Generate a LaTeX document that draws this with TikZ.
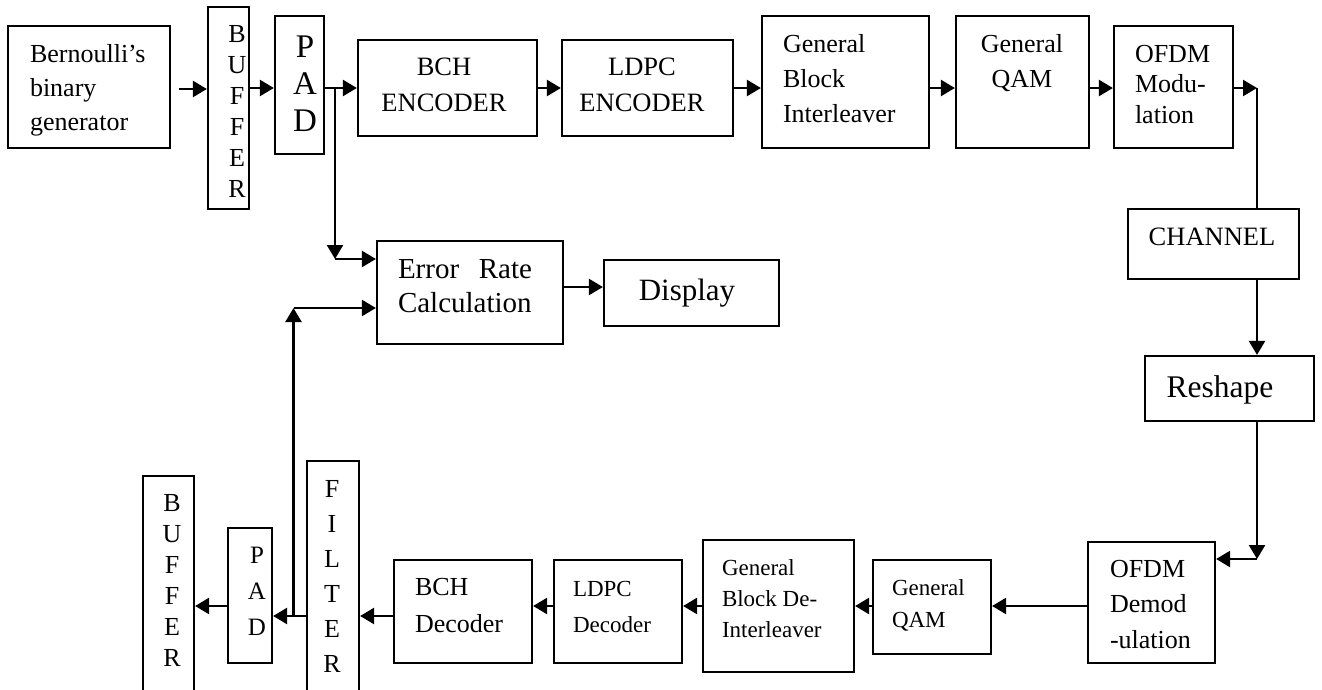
\documentclass[tikz,border=0pt]{standalone}
\usepackage{fontspec}
\setmainfont{Liberation Serif}
\usetikzlibrary{arrows.meta}
\newcommand\fsz[2]{\fontsize{#1}{#2}\selectfont}
\begin{document}
\begin{tikzpicture}[x=1pt,y=-1pt,
  blk/.style={draw, line width=2.2pt, inner sep=0pt},
  lbl/.style={inner sep=0pt, outer sep=0pt},
  lblL/.style={lbl, anchor=north west, align=left},
  lblC/.style={lbl, anchor=north, align=center},
  arr/.style={line width=2.4pt, -{Triangle[length=14pt,width=16pt]}},
  wire/.style={line width=2.4pt}]
\useasboundingbox (0,0) rectangle (1322,689);
\clip (0,0) rectangle (1322,689);

% ---------- transmitter chain ----------
\node[blk, minimum width=162pt, minimum height=122pt] (bern) at (89,87) {};
\node[lblL, font=\fsz{26}{34}] (bernT) at (30,38.2) {\strut Bernoulli’s\\binary\\generator};

\node[blk, minimum width=41pt, minimum height=202pt] (buf1) at (228.5,108) {};
\node[lblC, font=\fsz{26}{31}] (buf1T) at (237,20.3) {\strut B\\U\\F\\F\\E\\R};

\node[blk, minimum width=49pt, minimum height=138pt] (pad1) at (299.5,85) {};
\node[lblC, font=\fsz{33}{37}] (pad1T) at (305,31.1) {\strut P\\A\\D};

\node[blk, minimum width=179pt, minimum height=96pt] (bchenc) at (447.5,88) {};
\node[lblC, font=\fsz{26.5}{36}] (bchencT) at (444,49.8) {\strut BCH\\ENCODER};

\node[blk, minimum width=171pt, minimum height=96pt] (ldpcenc) at (647.5,88) {};
\node[lblC, font=\fsz{26.5}{36}] (ldpcencT) at (642,49.8) {\strut LDPC\\ENCODER};

\node[blk, minimum width=167pt, minimum height=132pt] (gbi) at (845.5,82) {};
\node[lblL, font=\fsz{26}{35}] (gbiT) at (783,27.5) {\strut General\\Block\\Interleaver};

\node[blk, minimum width=133pt, minimum height=132pt] (qam1) at (1022.5,82) {};
\node[lblC, font=\fsz{26}{35}] (qam1T) at (1022,27.5) {\strut General\\QAM};

\node[blk, minimum width=119pt, minimum height=122pt] (ofdm) at (1173.5,87) {};
\node[lblL, font=\fsz{26}{30.5}] (ofdmT) at (1135,40.65) {\strut OFDM\\Modu-\\lation};

\node[blk, minimum width=171pt, minimum height=70pt] (chan) at (1213.5,244) {};
\node[lblC, font=\fsz{26.5}{32}] (chanT) at (1212,222.6) {\strut CHANNEL};

\node[blk, minimum width=169pt, minimum height=65pt] (resh) at (1229.5,388.5) {};
\node[lblC, font=\fsz{31.5}{36}] (reshT) at (1220,371.8) {\strut Reshape};

% ---------- error measurement ----------
\node[blk, minimum width=186pt, minimum height=103pt] (err) at (470,292.5) {};
\node[lblL, font=\fsz{29}{34}] (errT) at (398,254.2) {\strut\hbox to 134pt{Error\hfill Rate}\\Calculation};

\node[blk, minimum width=175pt, minimum height=66pt] (disp) at (691.5,293) {};
\node[lblC, font=\fsz{31}{36}] (dispT) at (687,274.8) {\strut Display};

% ---------- receiver chain ----------
\node[blk, minimum width=127pt, minimum height=121pt] (ofdmd) at (1151.5,602.5) {};
\node[lblL, font=\fsz{26}{35.5}] (ofdmdT) at (1110,552.15) {\strut OFDM\\Demod\\-ulation};

\node[blk, minimum width=118pt, minimum height=94pt] (qam2) at (932,607) {};
\node[lblL, font=\fsz{23}{32}] (qam2T) at (892,572.6) {\strut General\\QAM};

\node[blk, minimum width=151pt, minimum height=132pt] (gbdi) at (778.5,606) {};
\node[lblL, font=\fsz{23}{31}] (gbdiT) at (722,553.3) {\strut General\\Block De-\\Interleaver};

\node[blk, minimum width=128pt, minimum height=103pt] (ldpcdec) at (618,611.5) {};
\node[lblL, font=\fsz{23}{36}] (ldpcdecT) at (573,570.8) {\strut LDPC\\Decoder};

\node[blk, minimum width=138pt, minimum height=103pt] (bchdec) at (463,611.5) {};
\node[lblL, font=\fsz{26}{37}] (bchdecT) at (415,569.1) {\strut BCH\\Decoder};

\node[blk, minimum width=52pt, minimum height=259pt] (filt) at (333,590.5) {};
\node[lblC, font=\fsz{26}{35}] (filtT) at (332,472.5) {\strut F\\I\\L\\T\\E\\R};

\node[blk, minimum width=44pt, minimum height=135pt] (pad2) at (250,595.5) {};
\node[lblC, font=\fsz{25}{36}] (pad2T) at (257,537.8) {\strut P\\A\\D};

\node[blk, minimum width=51pt, minimum height=244pt] (buf2) at (168.5,598) {};
\node[lblC, font=\fsz{26}{31}] (buf2T) at (172,489.3) {\strut B\\U\\F\\F\\E\\R};

% ---------- connector levels ----------
\coordinate (ya) at (0,89);
\coordinate (yb) at (0,88);
\coordinate (yc) at (0,259);
\coordinate (yd) at (0,308);
\coordinate (ye) at (0,287);
\coordinate (yf) at (0,559);
\coordinate (yg) at (0,606);
\coordinate (yh) at (0,616);
\coordinate (xj) at (335,0);
\coordinate (xk) at (1257,0);
\coordinate (xm) at (293.5,0);

% ---------- transmitter connectors ----------
\draw[arr, shorten <=8pt] (bern.east |- ya) -- (buf1.west |- ya);
\draw[arr] (buf1.east |- yb) -- (pad1.west |- yb);
\draw[arr] (pad1.east |- yb) -- (bchenc.west |- yb);
\coordinate (tap) at (xj |- yb);
\coordinate (tapd) at (xj |- yc);
\draw[arr] (tap) -- (tapd);
\draw[arr] (tapd) -- (err.west |- yc);
\draw[arr] (bchenc.east |- yb) -- (ldpcenc.west |- yb);
\draw[arr] (ldpcenc.east |- yb) -- (gbi.west |- yb);
\draw[arr] (gbi.east |- yb) -- (qam1.west |- yb);
\draw[arr] (qam1.east |- yb) -- (ofdm.west |- yb);
\coordinate (ocor) at (xk |- yb);
\draw[arr] (ofdm.east |- yb) -- (ocor);
\draw[wire] (ocor) -- (chan.north -| xk);
\draw[arr] (chan.south -| xk) -- (resh.north -| xk);
\coordinate (rcor) at (xk |- yf);
\draw[arr] (resh.south -| xk) -- (rcor);
\draw[arr] (rcor) -- (ofdmd.east |- yf);

% ---------- receiver connectors ----------
\draw[arr] (ofdmd.west |- yg) -- (qam2.east |- yg);
\draw[arr] (qam2.west |- yg) -- (gbdi.east |- yg);
\draw[arr] (gbdi.west |- yg) -- (ldpcdec.east |- yg);
\draw[arr] (ldpcdec.west |- yg) -- (bchdec.east |- yg);
\draw[arr] (bchdec.west |- yh) -- (filt.east |- yh);
\draw[arr] (filt.west |- yh) -- (pad2.east |- yh);
\coordinate (fb) at (xm |- yh);
\coordinate (fbu) at (xm |- yd);
\draw[arr] (fb) -- (fbu);
\draw[arr] (fbu) -- (err.west |- yd);
\draw[arr] (pad2.west |- yg) -- (buf2.east |- yg);
\draw[arr] (err.east |- ye) -- (disp.west |- ye);
\end{tikzpicture}
\end{document}
